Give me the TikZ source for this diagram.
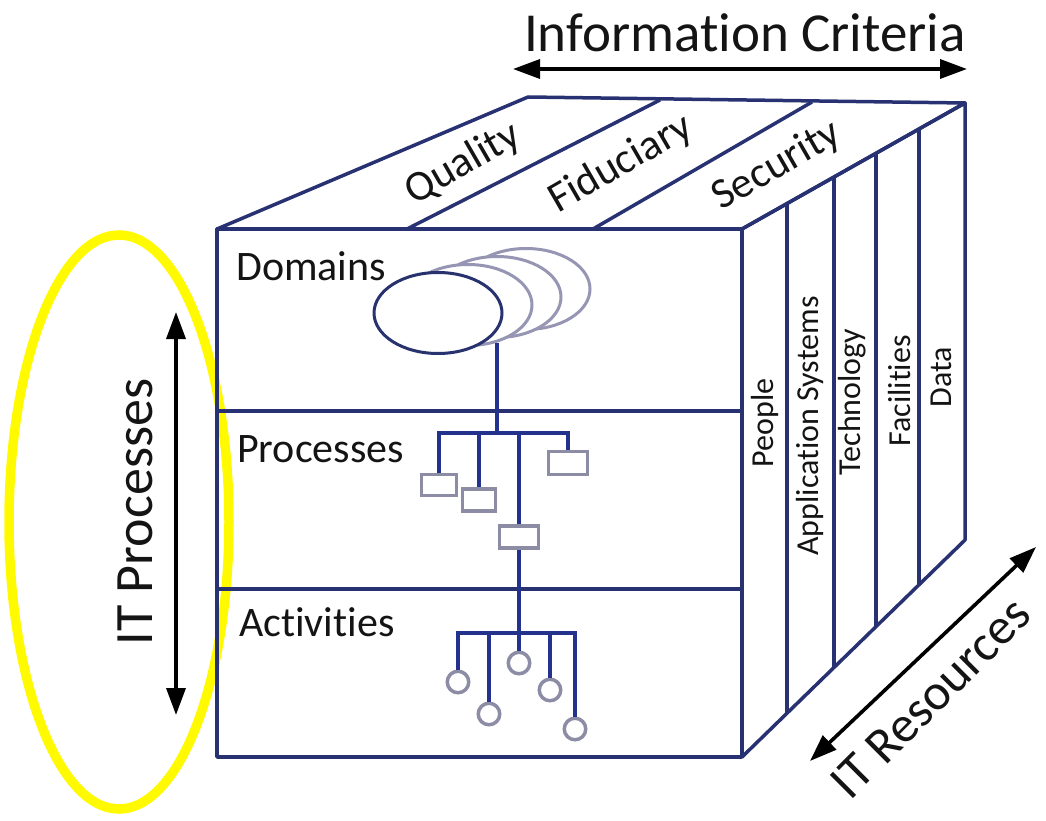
\documentclass[tikz,border=0pt]{standalone}
\usepackage{fontspec}
\setmainfont{Carlito}[Ligatures={NoCommon},RawFeature={-liga;-clig;-dlig}]
\usetikzlibrary{arrows.meta,shapes.geometric}
\definecolor{cubeline}{RGB}{40,50,115}
\definecolor{treeline}{RGB}{35,50,140}
\definecolor{boxgray}{RGB}{140,140,165}
\definecolor{ellgray}{RGB}{150,150,180}
\definecolor{elldark}{RGB}{40,50,110}
\definecolor{hilite}{RGB}{255,250,0}
\definecolor{txt}{RGB}{20,20,20}
\begin{document}
\begin{tikzpicture}[x=1pt,y=-1pt,
  cube/.style={draw=cubeline,line width=3.5pt,line join=round},
  tree/.style={draw=treeline,line width=3.5pt},
  procbox/.style={draw=boxgray,line width=3.5pt,fill=white,rectangle,inner sep=0pt},
  actcirc/.style={draw=boxgray,line width=3.5pt,fill=white,circle,minimum size=21.5pt,inner sep=0pt},
  domell/.style={ellipse,line width=3pt,fill=white,inner sep=0pt,minimum width=128pt,minimum height=81pt},
  dual/.style={{Triangle[length=27pt,width=19pt]}-{Triangle[length=27pt,width=19pt]},line width=3.6pt,draw=black},
  lbl/.style={text=txt,inner sep=0pt}]
\useasboundingbox (0,0) rectangle (1046,821);

% highlight ellipse
\draw[hilite,line width=9.5pt] (119,522) ellipse [x radius=110, y radius=287];

% cube: top face
\draw[cube] (217,229) -- (528,97) -- (965,103) -- (742,229) -- cycle;
\draw[cube] (407,229) -- (660,100);
\draw[cube] (593,229) -- (812,102);
% front face
\draw[cube] (217,229) rectangle (742,757);
\draw[cube] (217,411) -- (742,411);
\draw[cube] (217,589) -- (742,589);
% right face
\draw[cube] (742,229) -- (965,103) -- (965,540) -- (742,757);
\draw[cube] (787,204) -- (787,713);
\draw[cube] (834,177) -- (834,668);
\draw[cube] (876,153) -- (876,627);
\draw[cube] (919,129) -- (919,585);

% domains
\node[domell,draw=ellgray] (d4) at (526,289) {};
\node[domell,draw=ellgray] (d3) at (497,297) {};
\node[domell,draw=ellgray] (d2) at (468,305) {};
\node[domell,draw=elldark] (d1) at (438,313) {};

% processes tree
\coordinate (dstem) at (497,343);
\coordinate (pbar) at (497,433);
\node[procbox,minimum width=35pt,minimum height=21pt] (p1) at (439,485) {};
\node[procbox,minimum width=33pt,minimum height=22pt] (p2) at (479,500) {};
\node[procbox,minimum width=39pt,minimum height=22pt] (p3) at (519,537) {};
\node[procbox,minimum width=39pt,minimum height=23pt] (p4) at (568,463) {};
\draw[tree] (dstem) -- (pbar);
\draw[tree] (p1.north) |- (pbar) -| (p4.north);
\draw[tree] (p2.north) -- (p2.north |- pbar);
\draw[tree] (p3.north) -- (p3.north |- pbar);

% activities tree
\coordinate (abar) at (519,633);
\node[actcirc] (a1) at (458,682) {};
\node[actcirc] (a2) at (489,714) {};
\node[actcirc] (a3) at (519,663) {};
\node[actcirc] (a4) at (550,690) {};
\node[actcirc] (a5) at (575,729) {};
\draw[tree] (p3.south) -- (abar);
\draw[tree] (a1.north) |- (abar) -| (a5.north);
\draw[tree] (a2.north) -- (a2.north |- abar);
\draw[tree] (a3.north) -- (abar);
\draw[tree] (a4.north) -- (a4.north |- abar);

% front labels
\node[lbl,font=\fontsize{42}{46}\selectfont,anchor=base west] (ldom) at (236,280) {Domains};
\node[lbl,font=\fontsize{42}{46}\selectfont,anchor=base west] (lproc) at (237,462) {Processes};
\node[lbl,font=\fontsize{42}{46}\selectfont,anchor=base west] (lact) at (239,636) {Activities};

% top labels
\node[lbl,font=\fontsize{43}{46}\selectfont,rotate=30] (lq) at (463,164) {Quality};
\node[lbl,font=\fontsize{43}{46}\selectfont,rotate=30] (lf) at (621,164) {Fiduciary};
\node[lbl,font=\fontsize{43}{46}\selectfont,rotate=30] (ls) at (777,166) {Security};

% right labels
\node[lbl,font=\fontsize{32}{36}\selectfont,rotate=90] (lpe) at (765,423) {People};
\node[lbl,font=\fontsize{32}{36}\selectfont,rotate=90] (lap) at (810,426) {Application Systems};
\node[lbl,font=\fontsize{32}{36}\selectfont,rotate=90] (lte) at (852,402) {Technology};
\node[lbl,font=\fontsize{32}{36}\selectfont,rotate=90] (lfa) at (899,391) {Facilities};
\node[lbl,font=\fontsize{32}{36}\selectfont,rotate=90] (lda) at (941,377) {Data};

% axis labels and arrows
\node[lbl,font=\fontsize{55}{60}\selectfont,anchor=base] (title) at (745,52) {Information Criteria};
\coordinate (icl) at (513,69);
\coordinate (icr) at (967,69);
\draw[dual] (icl) -- (icr);

\node[lbl,font=\fontsize{54}{58}\selectfont,rotate=90] (itp) at (135,512) {IT Processes};
\coordinate (ipt) at (176,312);
\coordinate (ipb) at (176,715);
\draw[dual] (ipt) -- (ipb);

\node[lbl,font=\fontsize{51}{55}\selectfont,rotate=45] (itr) at (931,698) {IT Resources};
\coordinate (irl) at (810,761);
\coordinate (irr) at (1036,547);
\draw[dual] (irl) -- (irr);
\end{tikzpicture}
\end{document}
